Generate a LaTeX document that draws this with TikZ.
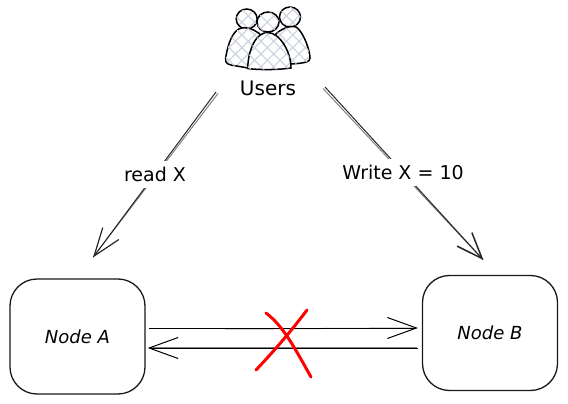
\documentclass[tikz,border=0pt]{standalone}
\usepackage{fontspec}
\setmainfont{DejaVu Sans}
\usepackage{tikz}
\usetikzlibrary{arrows.meta,patterns.meta,positioning}
\definecolor{hatch}{RGB}{205,212,222}
\begin{document}
\begin{tikzpicture}[
    x=1pt, y=-1pt,
    box/.style={rectangle, draw=black!90, fill=white, line width=1.3pt, rounded corners=27pt, minimum width=135pt, minimum height=115pt, inner sep=0pt, font=\fontsize{18}{20}\selectfont\itshape},
    label/.style={fill=white, inner sep=0pt, minimum height=27pt, font=\fontsize{19}{20}\selectfont},
    link/.style={line width=1pt, black!85},
    ghost/.style={line width=1pt, black!50},
    tipread/.style={-{Straight Barb[length=28pt,width=20pt,line width=1.2pt]}},
    tiphoriz/.style={-{Straight Barb[length=29pt,width=21pt,line width=1pt]}},
    person/.style={draw=black, line width=1.5pt, preaction={fill=white}, pattern={Lines[angle=45,distance=9pt,line width=1.2pt]}, pattern color=hatch, postaction={pattern={Lines[angle=-45,distance=9pt,line width=1.2pt]}, pattern color=hatch}},
    cross/.style={red, line width=3pt, line cap=round}
]
    \useasboundingbox (0,0) rectangle (568,404);

    \node[box] (nodea) at (77.5,336.5) {Node A};
    \node[box] (nodeb) at (490,333) {Node B};
    \coordinate (readtail) at (216,92);
    \coordinate (writetail) at (325,87);

    % users icon
    \draw[person] (246.7,19) ellipse (10.5 and 10);
    \draw[person] (290,17) ellipse (10.5 and 10);
    \draw[person] (268,22) ellipse (11 and 10);
    \draw[person] (248,68) -- (231,65) .. controls (225,64) and (225,60) .. (226,56) .. controls (228,44) and (233,29) .. (242,28) .. controls (250,27) and (257,31) .. (262,36) -- (250,60) -- cycle;
    \draw[person] (274,36) .. controls (280,29) and (290,25) .. (296,27) .. controls (303,31) and (310,50) .. (310,58) .. controls (310,62) and (306,63) .. (291,64) -- (280,50) -- cycle;
    \draw[person] (247.7,68.5) .. controls (248,50) and (256,32) .. (268,32.5) .. controls (280,33) and (291,52) .. (291,68) .. controls (278,70) and (258,70) .. (247.7,68.5) -- cycle;
    \node[font=\fontsize{20}{22}\selectfont] (users) at (268,88) {Users};

    % user arrows
    \draw[ghost] ([shift={(2,1.5)}]readtail) -- ([shift={(15.5,-21)}]nodea.north);
    \draw[link, tipread, shorten >=26pt] (readtail) -- (nodea.north);
    \draw[ghost] ([shift={(-2,1.5)}]writetail) -- ([shift={(-7,-15)}]nodeb.north);
    \draw[link, -{Straight Barb[length=26pt,width=20pt,line width=1.5pt]}, shorten >=20pt] (writetail) -- ([xshift=7pt]nodeb.north);
    \node[label] (readx) at (155,174) {read X};
    \node[label] (writex) at (403,172) {Write X = 10};

    % arrows between the nodes
    \draw[ghost] ([shift={(80,1)}]nodea.east |- 0,328) -- ([shift={(-5,0)}]nodeb.west |- 0,328);
    \draw[link, tiphoriz, black, shorten <=3pt, shorten >=4pt] ([yshift=8.5pt]nodea.east) -- ([yshift=5pt]nodeb.west);
    \draw[ghost, shorten <=5pt, shorten >=5pt] ([yshift=-10.5pt]nodea.east) -- ([yshift=-14pt]nodeb.west);
    \draw[link, tiphoriz, black, shorten <=4pt, shorten >=2pt] ([yshift=-15pt]nodeb.west) -- ([yshift=-11.5pt]nodea.east);

    % red cross
    \draw[cross] (266,313) .. controls (283,326) and (293,345) .. (311,377);
    \draw[cross] (307,310) .. controls (292,330) and (275,350) .. (256,370);
\end{tikzpicture}
\end{document}
